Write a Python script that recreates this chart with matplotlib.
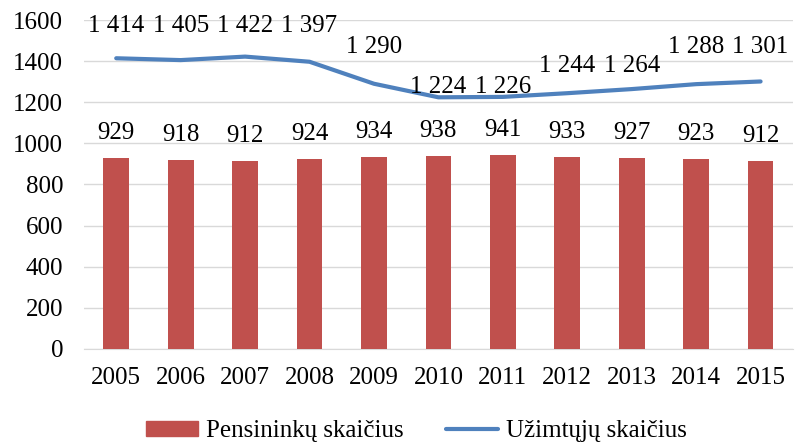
import matplotlib
matplotlib.use("Agg")
import matplotlib.pyplot as plt
from matplotlib.lines import Line2D
from matplotlib.patches import Patch

years = ["2005", "2006", "2007", "2008", "2009", "2010", "2011", "2012", "2013", "2014", "2015"]
pensininku = [929, 918, 912, 924, 934, 938, 941, 933, 927, 923, 912]
uzimtuju = [1414, 1405, 1422, 1397, 1290, 1224, 1226, 1244, 1264, 1288, 1301]
yticks = [0, 200, 400, 600, 800, 1000, 1200, 1400, 1600]

# label offsets above the line (in pixels, to mimic manual placement)
line_label_offsets = [32, 34, 31, 36, 37, 10, 10, 27, 23, 37, 34]

plt.rcParams['font.family'] = ['Liberation Serif', 'DejaVu Serif']
RED = "#C0504D"
BLUE = "#4F81BD"
FS = 18

fig = plt.figure(figsize=(8, 4.45), dpi=100)
ax = fig.add_axes([0.105, 0.216, 0.886, 0.739])

x = list(range(len(years)))
ax.bar(x, pensininku, width=0.4, color=RED, zorder=2)
ax.plot(x, uzimtuju, color=BLUE, linewidth=3, solid_capstyle='round', zorder=3)

def fmt(v):
    return f"{v:,}".replace(",", " ")

for xi, v in zip(x, pensininku):
    ax.annotate(fmt(v), (xi, v), xytext=(0, 25 * 0.72), textcoords='offset points',
                ha='center', va='center', fontsize=FS, color='#000000')
for xi, v, off in zip(x, uzimtuju, line_label_offsets):
    ax.annotate(fmt(v), (xi, v), xytext=(0, off * 0.72), textcoords='offset points',
                ha='center', va='center', fontsize=FS, color='#000000')

ax.set_xlim(-0.5, len(years) - 0.5)
ax.set_ylim(0, 1600)
ax.set_yticks(yticks)
ax.set_yticklabels([str(t) for t in yticks], fontsize=FS)
ax.set_xticks(x)
ax.set_xticklabels(years, fontsize=FS)
ax.tick_params(axis='both', length=0)
ax.tick_params(axis='x', pad=13)
ax.tick_params(axis='y', pad=15)
ax.grid(axis='y', color='#D9D9D9', linewidth=1, zorder=0)
ax.set_axisbelow(True)
for s in ['top', 'right', 'left']:
    ax.spines[s].set_visible(False)
ax.spines['bottom'].set_color('#D9D9D9')
ax.spines['bottom'].set_zorder(1)

handles = [Patch(color=RED, label="Pensininkų skaičius"),
           Line2D([0], [0], color=BLUE, linewidth=3, solid_capstyle='round', label="Užimtųjų skaičius")]
fig.legend(handles=handles, loc='lower center', bbox_to_anchor=(0.52, -0.044), ncol=2,
           frameon=False, fontsize=FS, handlelength=2.1, handleheight=0.56, columnspacing=1.7,
           handletextpad=0.3)

fig.savefig("out.png", dpi=100)
